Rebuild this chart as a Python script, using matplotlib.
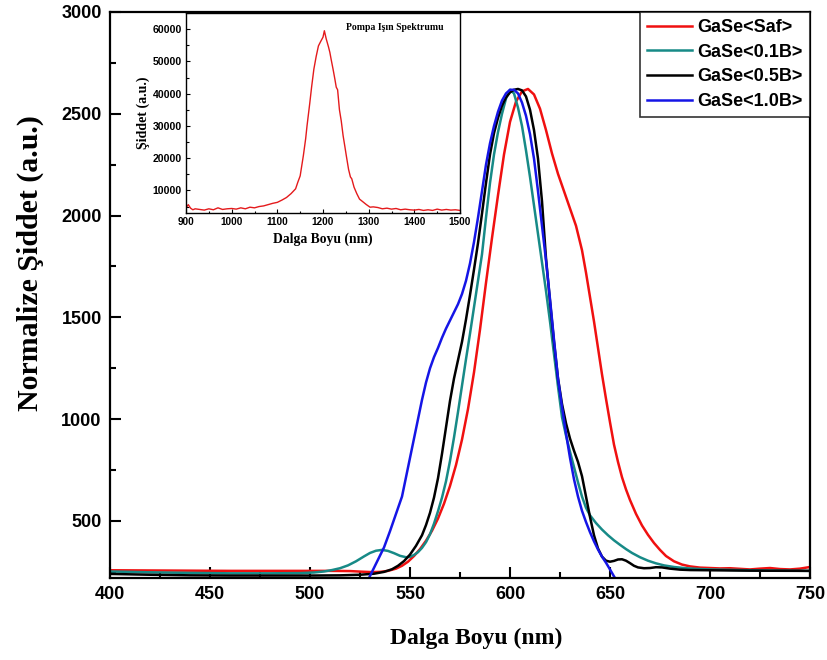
import matplotlib
matplotlib.use("Agg")
import matplotlib.pyplot as plt
from matplotlib.ticker import MultipleLocator

# ---------------- data ----------------
saf_x = [400, 420, 440, 460, 480, 500, 510, 520, 526, 531, 535, 539, 543, 546, 549, 552, 555, 558, 561, 564,
         567, 570, 573, 576, 579, 582, 585, 588, 591, 594, 597, 600, 603, 606, 609, 612, 615, 618, 621, 624,
         627, 630, 633, 636, 638, 640, 642, 644, 646, 648, 650, 652, 654, 656, 658, 660, 663, 666, 669, 672,
         675, 678, 682, 686, 690, 695, 700, 705, 710, 715, 720, 725, 730, 735, 740, 745, 750]
saf_y = [258, 257, 256, 255, 255, 255, 255, 254, 251, 249, 250, 255, 266, 280, 300, 328, 362, 403, 452, 512,
         585, 672, 775, 900, 1050, 1230, 1440, 1670, 1890, 2100, 2300, 2460, 2560, 2610, 2622, 2595, 2525, 2420,
         2305, 2205, 2120, 2035, 1950, 1830, 1720, 1600, 1480, 1350, 1220, 1100, 985, 875, 790, 715, 655, 603,
         535, 478, 432, 392, 358, 328, 302, 286, 277, 271, 269, 267, 268, 265, 262, 266, 269, 264, 262, 266, 274]

b01_x = [400, 420, 440, 460, 480, 495, 502, 507, 511, 515, 519, 523, 527, 530, 533, 536, 539, 542, 545, 548,
         550, 552, 554, 556, 558, 560, 562, 564, 566, 568, 570, 572, 574, 576, 578, 580, 582, 584, 586, 588,
         590, 592, 594, 596, 598, 600, 602, 604, 606, 608, 610, 612, 614, 616, 618, 620, 622, 624, 626, 628,
         630, 632, 634, 636, 638, 640, 643, 646, 649, 652, 655, 658, 661, 665, 669, 673, 677, 682, 688, 695,
         700, 710, 720, 730, 740, 750]
b01_y = [252, 248, 245, 243, 243, 244, 247, 252, 259, 268, 282, 302, 326, 343, 354, 358, 353, 342, 329, 322,
         324, 333, 347, 368, 396, 435, 487, 548, 615, 695, 795, 910, 1035, 1165, 1295, 1420, 1550, 1680, 1810,
         1990, 2160, 2300, 2410, 2500, 2575, 2618, 2600, 2530, 2440, 2320, 2190, 2050, 1910, 1770, 1630, 1480,
         1320, 1160, 1010, 920, 840, 765, 690, 620, 565, 528, 490, 458, 430, 405, 383, 362, 343, 322, 305, 292,
         282, 274, 268, 264, 262, 260, 258, 257, 256, 255]

b05_x = [400, 420, 440, 460, 480, 500, 515, 525, 532, 537, 541, 544, 547, 550, 553, 556, 558, 560, 562, 564,
         566, 568, 570, 572, 574, 576, 578, 580, 582, 584, 586, 588, 590, 592, 594, 596, 598, 600, 602, 604,
         606, 608, 610, 612, 614, 616, 618, 620, 622, 624, 626, 628, 630, 632, 634, 636, 638, 640, 642, 644,
         646, 648, 650, 652, 654, 656, 658, 660, 662, 664, 667, 670, 673, 676, 680, 685, 690, 700, 720, 750]
b05_y = [240, 236, 233, 232, 232, 232, 233, 236, 241, 250, 263, 280, 303, 335, 378, 430, 480, 540, 615, 710,
         830, 960, 1090, 1200, 1290, 1380, 1490, 1610, 1735, 1865, 2010, 2160, 2300, 2405, 2480, 2540, 2580,
         2605, 2618, 2622, 2615, 2585, 2520, 2420, 2280, 2070, 1790, 1580, 1380, 1200, 1075, 980, 905, 845,
         790, 720, 620, 520, 430, 365, 325, 305, 300, 304, 311, 312, 305, 293, 280, 272, 268, 269, 273, 272,
         266, 261, 259, 258, 256, 255]

b10_x = [528, 531, 534, 537, 540, 543, 546, 548, 550, 552, 554, 556, 558, 560, 562, 564, 566, 568, 570, 572,
         574, 576, 578, 580, 582, 584, 586, 588, 590, 592, 594, 596, 598, 600, 602, 604, 606, 608, 610, 612,
         614, 616, 618, 620, 622, 624, 626, 628, 630, 632, 634, 636, 638, 640, 642, 644, 646, 648, 650, 652, 654]
b10_y = [190, 250, 310, 370, 450, 535, 620, 715, 810, 905, 1000, 1095, 1180, 1250, 1305, 1350, 1400, 1445,
         1485, 1525, 1565, 1615, 1680, 1765, 1870, 1990, 2120, 2250, 2355, 2440, 2510, 2565, 2600, 2618, 2618,
         2600, 2555, 2490, 2400, 2280, 2120, 1950, 1780, 1590, 1390, 1200, 1060, 930, 810, 705, 620, 550, 495,
         445, 400, 360, 325, 295, 262, 228, 195]

labels = ["GaSe<Saf>", "GaSe<0.1B>", "GaSe<0.5B>", "GaSe<1.0B>"]
colors = ["#f01010", "#178a87", "#000000", "#1515e6"]

pump_x = [900, 905, 910, 915, 920, 930, 940, 950, 960, 970, 980, 990, 1000, 1010, 1020, 1030, 1040, 1050,
          1060, 1070, 1080, 1090, 1100, 1110, 1120, 1130, 1140, 1145, 1150, 1157, 1162, 1165, 1171, 1175,
          1180, 1185, 1190, 1195, 1200, 1203, 1207, 1212, 1215, 1218, 1222, 1226, 1229, 1232, 1236, 1240,
          1244, 1248, 1251, 1256, 1260, 1263, 1268, 1274, 1280, 1288, 1295, 1303, 1310, 1320, 1330, 1340,
          1350, 1360, 1370, 1380, 1390, 1400, 1410, 1420, 1430, 1440, 1450, 1460, 1470, 1480, 1490, 1500]
pump_y = [4600, 5600, 4500, 4000, 4300, 4100, 3900, 4300, 4000, 4600, 4100, 4300, 4400, 4200, 4600, 4300,
          4800, 4600, 5000, 5200, 5600, 6000, 6300, 7000, 7800, 9000, 10500, 12600, 14500, 20800, 26000,
          30000, 37000, 42000, 47600, 51500, 54800, 56200, 57500, 59500, 57000, 54500, 52800, 50500, 47600,
          44500, 42000, 41200, 35000, 31500, 27000, 23500, 20800, 16500, 14200, 13600, 11000, 9000, 7300,
          6400, 5600, 4800, 4900, 4700, 4300, 4500, 4200, 4400, 4000, 4200, 4000, 3900, 4100, 3800, 4000,
          3800, 4200, 3900, 4100, 3900, 4000, 3800]

# ---------------- figure ----------------
fig = plt.figure(figsize=(8.28, 6.60), dpi=100)
ax = fig.add_axes([110/828, 1-578/660, 700/828, 566/660])

series = [(saf_x, saf_y), (b01_x, b01_y), (b05_x, b05_y), (b10_x, b10_y)]
for (xs, ys), lab, c in zip(series, labels, colors):
    ax.plot(xs, ys, color=c, lw=1.8, label=lab, solid_joinstyle="round")

ax.set_xlim(400, 750)
ax.set_ylim(220, 3000)
ax.xaxis.set_major_locator(MultipleLocator(50))
ax.xaxis.set_minor_locator(MultipleLocator(25))
ax.yaxis.set_major_locator(MultipleLocator(500))
ax.yaxis.set_minor_locator(MultipleLocator(250))
ax.set_yticks([500, 1000, 1500, 2000, 2500, 3000])
ax.tick_params(which="both", direction="in", width=1.5, top=False, right=False)
ax.tick_params(which="major", length=8, labelsize=13, pad=6)
ax.tick_params(which="minor", length=4)
for lab in ax.get_xticklabels() + ax.get_yticklabels():
    lab.set_fontweight("bold")
    lab.set_fontfamily("Liberation Sans")
for s in ax.spines.values():
    s.set_linewidth(1.6)

ax.set_xlabel("Dalga Boyu (nm)", fontsize=17, fontweight="bold", family="Liberation Serif")
ax.xaxis.set_label_coords((476-110)/700, -50/566)
ax.set_ylabel("Normalize Şiddet (a.u.)", fontsize=21.5, fontweight="bold", family="Liberation Serif")
ax.yaxis.set_label_coords(-66/700, (578-263)/566)

leg = ax.legend(loc="upper right", borderaxespad=0, frameon=True, fancybox=False, edgecolor="black",
                prop={"family": "Liberation Sans", "weight": "bold", "size": 13},
                handlelength=2.5, labelspacing=0.42, handletextpad=0.3, borderpad=0.4)
leg.get_frame().set_linewidth(1.2)

# ---------------- inset ----------------
ins = fig.add_axes([186/828, 1-213/660, 274/828, 200/660])
ins.plot(pump_x, pump_y, color="#e41a1c", lw=1.0)
ins.set_xlim(900, 1500)
ins.set_ylim(3000, 65000)
ins.xaxis.set_major_locator(MultipleLocator(100))
ins.xaxis.set_minor_locator(MultipleLocator(50))
ins.yaxis.set_major_locator(MultipleLocator(10000))
ins.yaxis.set_minor_locator(MultipleLocator(5000))
ins.set_yticks([10000, 20000, 30000, 40000, 50000, 60000])
ins.tick_params(which="both", direction="in", width=0.8, top=False, right=False)
ins.tick_params(which="major", length=3, pad=3)
ins.tick_params(axis="x", labelsize=7.2)
ins.tick_params(axis="y", labelsize=7.6)
ins.tick_params(which="minor", length=1.8)
for lab in ins.get_xticklabels() + ins.get_yticklabels():
    lab.set_fontweight("bold")
    lab.set_fontfamily("Liberation Sans")
for s in ins.spines.values():
    s.set_linewidth(1.0)
ins.set_xlabel("Dalga Boyu (nm)", fontsize=9.8, fontweight="bold", family="Liberation Serif", labelpad=4)
ins.set_ylabel("Şiddet (a.u.)", fontsize=10, fontweight="bold", family="Liberation Serif", labelpad=2)
ins.text(0.94, 0.925, "Pompa Işın Spektrumu", transform=ins.transAxes, ha="right", va="center",
         fontsize=7, fontweight="bold", family="Liberation Serif")

fig.savefig("out.png", dpi=100)
